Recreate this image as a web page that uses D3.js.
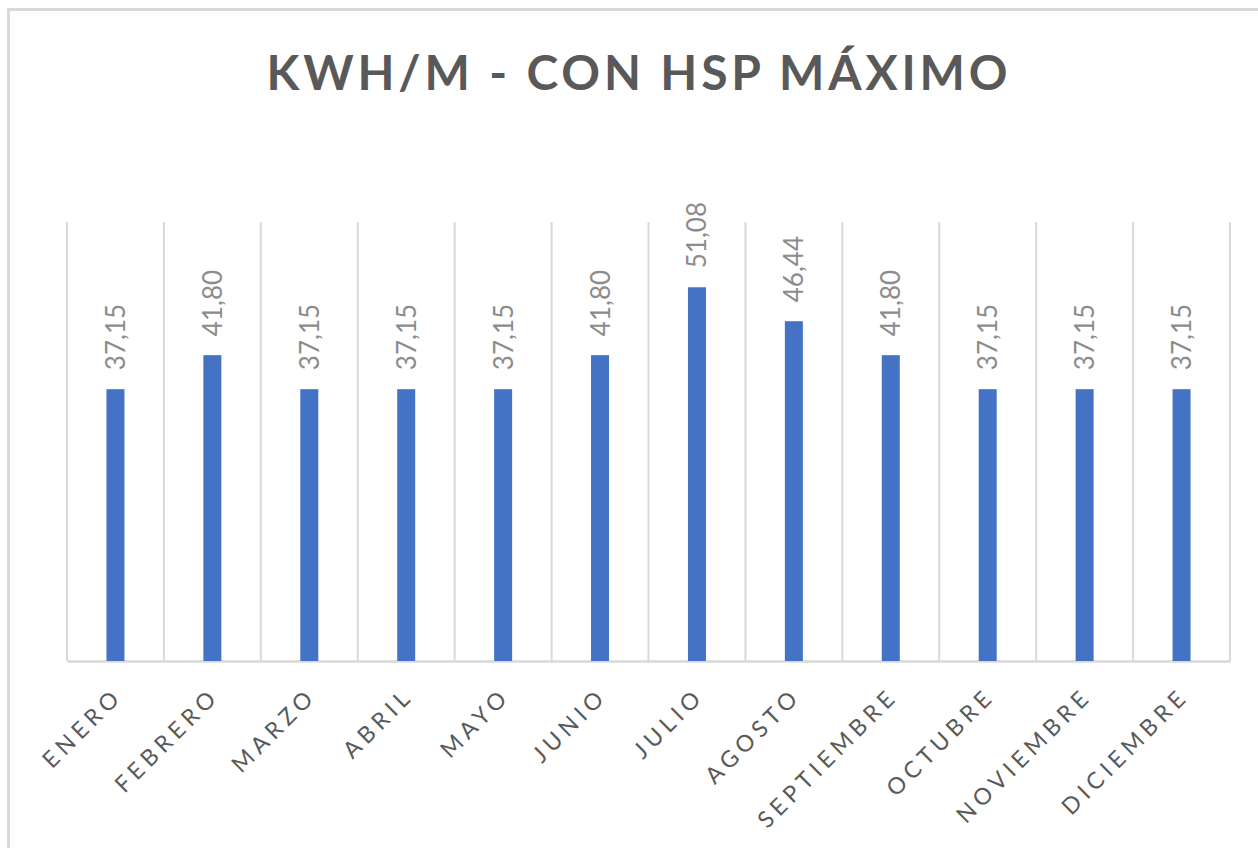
<!DOCTYPE html>
<html>
<head>
<meta charset="utf-8">
<script src="https://cdn.jsdelivr.net/npm/d3@7"></script>
<style>
  html, body { margin: 0; padding: 0; background: #ffffff; }
  svg { display: block; }
</style>
</head>
<body>
<div id="chart"></div>
<script>
const titleText = "KWH/M - CON HSP MÁXIMO";
const months = ["ENERO", "FEBRERO", "MARZO", "ABRIL", "MAYO", "JUNIO", "JULIO", "AGOSTO", "SEPTIEMBRE", "OCTUBRE", "NOVIEMBRE", "DICIEMBRE"];
const kwhValues = [37.15, 41.80, 37.15, 37.15, 37.15, 41.80, 51.08, 46.44, 41.80, 37.15, 37.15, 37.15];
const yDomain = [0, 60];

const W = 1258, H = 848;
const plot = { left: 67, right: 1230, top: 222, bottom: 661 };

const svg = d3.select("#chart").append("svg")
  .attr("width", W).attr("height", H);

// outer chart border
svg.append("rect")
  .attr("x", 8.5).attr("y", 9.5)
  .attr("width", W + 20).attr("height", H + 20)
  .attr("fill", "#ffffff")
  .attr("stroke", "#d9d9d9").attr("stroke-width", 3);

// title
svg.append("text")
  .attr("x", 637).attr("y", 90)
  .attr("text-anchor", "middle")
  .attr("font-family", "Lato, 'Open Sans', sans-serif")
  .attr("font-weight", "bold")
  .attr("font-size", 48)
  .attr("fill", "#595959")
  .attr("textLength", 741)
  .attr("lengthAdjust", "spacing")
  .text(titleText);

const x = d3.scaleBand().domain(months).range([plot.left, plot.right]).padding(0);
const y = d3.scaleLinear().domain(yDomain).range([plot.bottom, plot.top]);

// vertical category gridlines
const bounds = months.map(m => x(m)).concat([plot.right]);
svg.append("g").selectAll("line").data(bounds).join("line")
  .attr("x1", d => d).attr("x2", d => d)
  .attr("y1", y(yDomain[1])).attr("y2", plot.bottom)
  .attr("stroke", "#d9d9d9").attr("stroke-width", 2);

// x axis line
const xAxis = d3.axisBottom(x).tickSize(0).tickPadding(0).tickFormat("");
const gx = svg.append("g").attr("transform", `translate(0,${plot.bottom})`).call(xAxis);
gx.select(".domain").attr("stroke", "#d9d9d9").attr("stroke-width", 2.5);

// bars
const barW = 18;
svg.append("g").selectAll("rect").data(kwhValues).join("rect")
  .attr("x", (d, i) => x(months[i]) + x.bandwidth() / 2 - barW / 2)
  .attr("y", d => y(d))
  .attr("width", barW)
  .attr("height", d => y(0) - y(d))
  .attr("fill", "#4472C4");

// data labels (rotated)
const fmt = v => v.toFixed(2).replace(".", ",");
svg.append("g").selectAll("text").data(kwhValues).join("text")
  .attr("transform", (d, i) => `translate(${x(months[i]) + x.bandwidth() / 2 + 9.5},${y(d) - 19}) rotate(-90)`)
  .attr("text-anchor", "start")
  .attr("font-family", "Lato, 'Open Sans', sans-serif")
  .attr("font-size", 26)
  .attr("fill", "#8c8c8c")
  .text(d => fmt(d));

// x tick labels (rotated -45)
const ls = 5;
svg.append("g").selectAll("text").data(months).join("text")
  .attr("transform", d => `translate(${x(d) + x.bandwidth() / 2 + 5 + ls * 0.707},${plot.bottom + 40 - ls * 0.707}) rotate(-45)`)
  .attr("text-anchor", "end")
  .attr("font-family", "Lato, 'Open Sans', sans-serif")
  .attr("font-size", 23)
  .attr("letter-spacing", ls)
  .attr("fill", "#595959")
  .text(d => d);
</script>
</body>
</html>
